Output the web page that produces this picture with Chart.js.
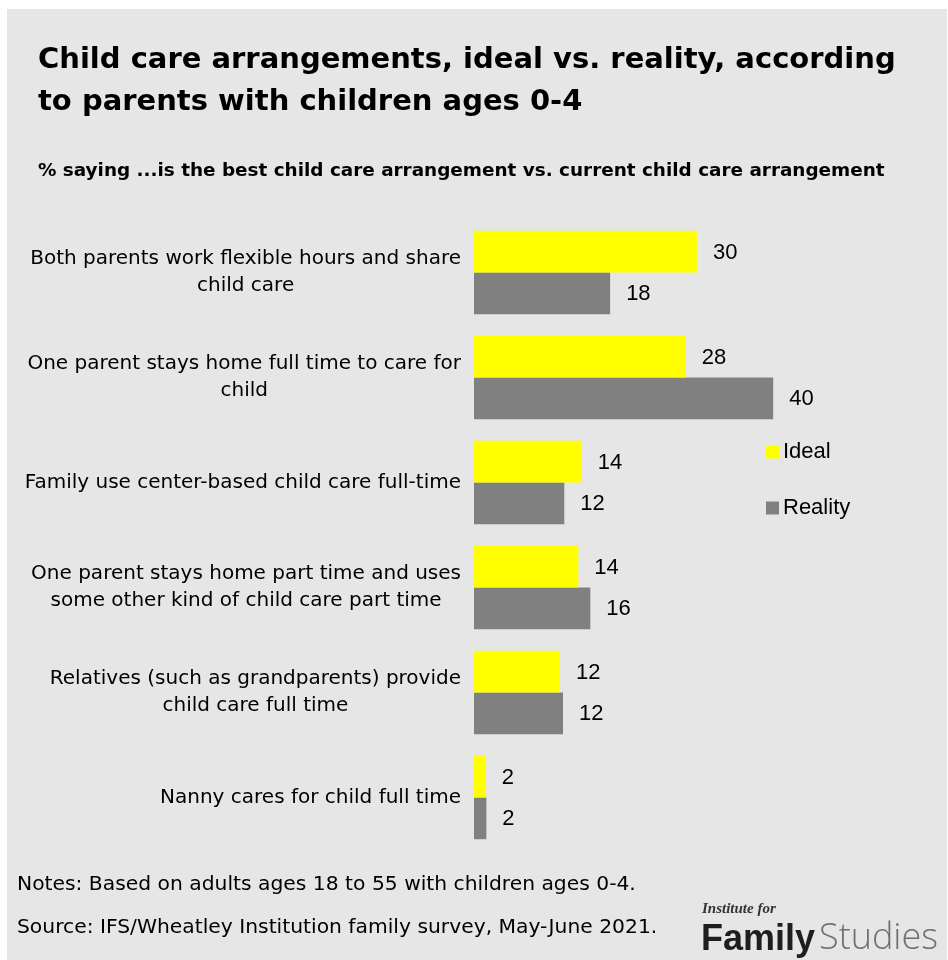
<!DOCTYPE html>
<html>
<head>
<meta charset="utf-8">
<script src="https://cdn.jsdelivr.net/npm/chart.js@4.4.1/dist/chart.umd.min.js"></script>
<style>
  body { margin: 0; background: #ffffff; width: 948px; height: 960px; position: relative; overflow: hidden; font-family: "DejaVu Sans", sans-serif; color: #000; }
  #panel { position: absolute; left: 7px; top: 9px; width: 940px; height: 951px; background: #e6e6e6; }
  #chart-wrap { position: absolute; left: 0; top: 0; width: 948px; height: 960px; }
  .txt { position: absolute; white-space: nowrap; }
  #title { left: 38px; top: 37px; font-size: 29px; font-weight: bold; line-height: 42px; }
  #subtitle { left: 38px; top: 160px; font-size: 18.4px; font-weight: bold; line-height: 19px; }
  #notes { left: 17px; top: 873px; font-size: 20.3px; line-height: 20px; }
  #source { left: 17px; top: 916px; font-size: 20.3px; line-height: 20px; }
  #logo-small { left: 702px; top: 901px; font-family: "Liberation Serif", serif; font-style: italic; font-weight: bold; font-size: 15px; line-height: 15px; color: #333; }
  #logo-family { left: 701px; top: 920px; font-family: "Liberation Sans", Arial, sans-serif; font-weight: bold; font-size: 36px; line-height: 36px; color: #1e1e1e; }
  #logo-studies { left: 819px; top: 918px; font-family: "Open Sans", sans-serif; font-weight: 300; font-size: 36px; line-height: 36px; color: #707070; }
</style>
</head>
<body>
<div id="panel"></div>
<div id="chart-wrap"><canvas id="chart" width="948" height="960"></canvas></div>
<div class="txt" id="title">Child care arrangements, ideal vs. reality, according<br>to parents with children ages 0-4</div>
<div class="txt" id="subtitle">% saying ...is the best child care arrangement vs. current child care arrangement</div>
<div class="txt" id="notes">Notes: Based on adults ages 18 to 55 with children ages 0-4.</div>
<div class="txt" id="source">Source: IFS/Wheatley Institution family survey, May-June 2021.</div>
<div class="txt" id="logo-small">Institute for</div>
<div class="txt" id="logo-family">Family</div>
<div class="txt" id="logo-studies">Studies</div>
<script>
// Categories (multi-line labels)
const categories = [
  ["Both parents work flexible hours and share", "child care"],
  ["One parent stays home full time to care for", "child"],
  ["Family use center-based child care full-time"],
  ["One parent stays home part time and uses", "some other kind of child care part time"],
  ["Relatives (such as grandparents) provide", "child care full time"],
  ["Nanny cares for child full time"],
];

// Series values
const idealValues = [29.8, 28.3, 14.4, 13.95, 11.5, 1.57];
const realityValues = [18.2, 40, 12.07, 15.55, 11.9, 1.65];

// Printed value labels
const idealLabels = ["30", "28", "14", "14", "12", "2"];
const realityLabels = ["18", "40", "12", "16", "12", "2"];

const seriesNames = ["Ideal", "Reality"];
const seriesColors = ["#ffff00", "#808080"];

// Category labels: block right-aligned, lines centred
const categoryLabels = {
  id: "categoryLabels",
  afterDraw(chart) {
    const ctx = chart.ctx;
    const yScale = chart.scales.y;
    const rightEdge = chart.chartArea.left - 13;
    const lineH = 26.7;
    ctx.save();
    ctx.font = "20px 'DejaVu Sans', sans-serif";
    ctx.fillStyle = "#000";
    ctx.textAlign = "center";
    ctx.textBaseline = "middle";
    categories.forEach((lines, i) => {
      const cy = yScale.getPixelForValue(i);
      const maxW = Math.max(...lines.map((l) => ctx.measureText(l).width));
      const cx = rightEdge - maxW / 2;
      const top = cy - (lines.length - 1) * lineH / 2;
      lines.forEach((l, j) => ctx.fillText(l, cx, top + j * lineH));
    });
    ctx.restore();
  },
};

// Value labels at bar ends
const valueLabels = {
  id: "valueLabels",
  afterDatasetsDraw(chart) {
    const ctx = chart.ctx;
    const labelSets = [idealLabels, realityLabels];
    ctx.save();
    ctx.font = "22px 'Liberation Sans', Arial, sans-serif";
    ctx.fillStyle = "#000";
    ctx.textAlign = "left";
    ctx.textBaseline = "middle";
    chart.data.datasets.forEach((ds, d) => {
      chart.getDatasetMeta(d).data.forEach((bar, i) => {
        ctx.fillText(labelSets[d][i], bar.x + 16, bar.y + 1);
      });
    });
    ctx.restore();
  },
};

// Legend on the right
const sideLegend = {
  id: "sideLegend",
  afterDraw(chart) {
    const ctx = chart.ctx;
    const x = 766;
    const rows = [452, 508];
    ctx.save();
    ctx.font = "22px 'Liberation Sans', Arial, sans-serif";
    ctx.textBaseline = "middle";
    chart.data.datasets.forEach((ds, d) => {
      ctx.fillStyle = ds.backgroundColor;
      ctx.fillRect(x, rows[d] - 6.5, 13, 13);
      ctx.fillStyle = "#000";
      ctx.fillText(ds.label, x + 17, rows[d]);
    });
    ctx.restore();
  },
};

const chart = new Chart(document.getElementById("chart").getContext("2d"), {
  type: "bar",
  data: {
    labels: categories.map((c) => c.join(" ")),
    datasets: [
      { label: seriesNames[0], data: idealValues, backgroundColor: seriesColors[0] },
      { label: seriesNames[1], data: realityValues, backgroundColor: seriesColors[1] },
    ],
  },
  options: {
    indexAxis: "y",
    responsive: false,
    animation: false,
    categoryPercentage: 0.795,
    barPercentage: 1.0,
    layout: { padding: { left: 474, right: 100, top: 220, bottom: 110 } },
    scales: {
      x: { display: false, min: 0, max: 50 },
      y: { display: false },
    },
    plugins: {
      legend: { display: false },
      tooltip: { enabled: false },
    },
  },
  plugins: [categoryLabels, valueLabels, sideLegend],
});
</script>
</body>
</html>
